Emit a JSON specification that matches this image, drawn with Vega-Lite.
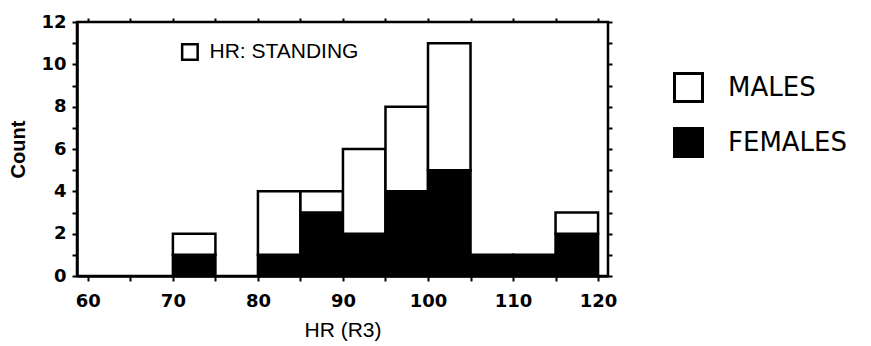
{
  "$schema": "https://vega.github.io/schema/vega-lite/v6.json",
  "width": 531,
  "height": 254,
  "autosize": "none",
  "padding": {"left": 77, "top": 22, "right": 263, "bottom": 70},
  "background": "white",
  "config": {
    "view": {"stroke": "black", "strokeWidth": 2.5},
    "axis": {
      "domainColor": "black", "tickColor": "black", "labelColor": "black", "titleColor": "black",
      "grid": false, "labelFont": "DejaVu Sans", "labelFontWeight": "bold", "labelFontSize": 18,
      "titleFont": "Liberation Sans", "titleFontSize": 20, "domainWidth": 2.5, "tickWidth": 2
    },
    "legend": {
      "orient": "none", "legendX": 596, "legendY": 50, "symbolType": "square", "symbolSize": 784,
      "symbolStrokeColor": "black", "symbolStrokeWidth": 3, "labelFont": "DejaVu Sans", "labelFontSize": 26,
      "labelColor": "black", "labelOffset": 24, "rowPadding": 14, "symbolOpacity": 1
    }
  },
  "resolve": {"axis": {"x": "independent", "y": "independent"}},
  "layer": [
    {
      "data": {"values": [
        {"bin_start": 70, "bin_end": 75, "sex": "FEMALES", "count": 1},
        {"bin_start": 70, "bin_end": 75, "sex": "MALES", "count": 1},
        {"bin_start": 80, "bin_end": 85, "sex": "FEMALES", "count": 1},
        {"bin_start": 80, "bin_end": 85, "sex": "MALES", "count": 3},
        {"bin_start": 85, "bin_end": 90, "sex": "FEMALES", "count": 3},
        {"bin_start": 85, "bin_end": 90, "sex": "MALES", "count": 1},
        {"bin_start": 90, "bin_end": 95, "sex": "FEMALES", "count": 2},
        {"bin_start": 90, "bin_end": 95, "sex": "MALES", "count": 4},
        {"bin_start": 95, "bin_end": 100, "sex": "FEMALES", "count": 4},
        {"bin_start": 95, "bin_end": 100, "sex": "MALES", "count": 4},
        {"bin_start": 100, "bin_end": 105, "sex": "FEMALES", "count": 5},
        {"bin_start": 100, "bin_end": 105, "sex": "MALES", "count": 6},
        {"bin_start": 105, "bin_end": 110, "sex": "FEMALES", "count": 1},
        {"bin_start": 110, "bin_end": 115, "sex": "FEMALES", "count": 1},
        {"bin_start": 115, "bin_end": 120, "sex": "FEMALES", "count": 2},
        {"bin_start": 115, "bin_end": 120, "sex": "MALES", "count": 1}
      ]},
      "mark": {"type": "bar", "stroke": "black", "strokeWidth": 2.5, "opacity": 1},
      "encoding": {
        "x": {
          "field": "bin_start", "type": "quantitative",
          "scale": {"domain": [59.31, 120.58], "nice": false, "zero": false},
          "axis": {"values": [60, 65, 70, 75, 80, 85, 90, 95, 100, 105, 110, 115, 120],
                   "labelExpr": "datum.value % 10 == 0 ? datum.label : ''",
                   "title": "HR (R3)", "tickSize": 5,
                   "labelPadding": 11, "titlePadding": 9, "titleFontWeight": "normal", "titleFontSize": 21}
        },
        "x2": {"field": "bin_end"},
        "y": {
          "aggregate": "sum", "field": "count", "type": "quantitative",
          "scale": {"domain": [0, 12], "nice": false},
          "axis": {"values": [0, 1, 2, 3, 4, 5, 6, 7, 8, 9, 10, 11, 12],
                   "labelExpr": "datum.value % 2 == 0 ? datum.label : ''",
                   "title": "Count", "tickSize": 5,
                   "labelPadding": 6, "titlePadding": 12, "titleFontWeight": "bold"}
        },
        "color": {
          "field": "sex", "type": "nominal",
          "scale": {"domain": ["MALES", "FEMALES"], "range": ["white", "black"]},
          "legend": {"title": null}
        },
        "order": {"field": "sex", "sort": "ascending"}
      }
    },
    {
      "data": {"values": [{"x": 72.0, "y": 10.58}]},
      "mark": {"type": "point", "shape": "square", "size": 240, "filled": false, "stroke": "black", "strokeWidth": 2.5, "opacity": 1},
      "encoding": {
        "x": {
          "field": "x", "type": "quantitative",
          "scale": {"domain": [59.31, 120.58], "nice": false, "zero": false},
          "axis": {"orient": "top", "values": [60, 65, 70, 75, 80, 85, 90, 95, 100, 105, 110, 115, 120],
                   "labels": false, "domain": false, "tickSize": 4, "title": null}
        },
        "y": {
          "field": "y", "type": "quantitative",
          "scale": {"domain": [0, 12], "nice": false},
          "axis": {"orient": "right", "values": [0, 1, 2, 3, 4, 5, 6, 7, 8, 9, 10, 11, 12],
                   "labels": false, "domain": false, "tickSize": 4, "title": null}
        }
      }
    },
    {
      "data": {"values": [{"x": 74.3, "y": 10.58, "label": "HR: STANDING"}]},
      "mark": {"type": "text", "align": "left", "baseline": "middle", "font": "Liberation Sans", "fontSize": 21, "color": "black"},
      "encoding": {
        "x": {"field": "x", "type": "quantitative", "scale": {"domain": [59.31, 120.58], "nice": false, "zero": false}, "axis": null},
        "y": {"field": "y", "type": "quantitative", "scale": {"domain": [0, 12], "nice": false}, "axis": null},
        "text": {"field": "label"}
      }
    }
  ]
}
